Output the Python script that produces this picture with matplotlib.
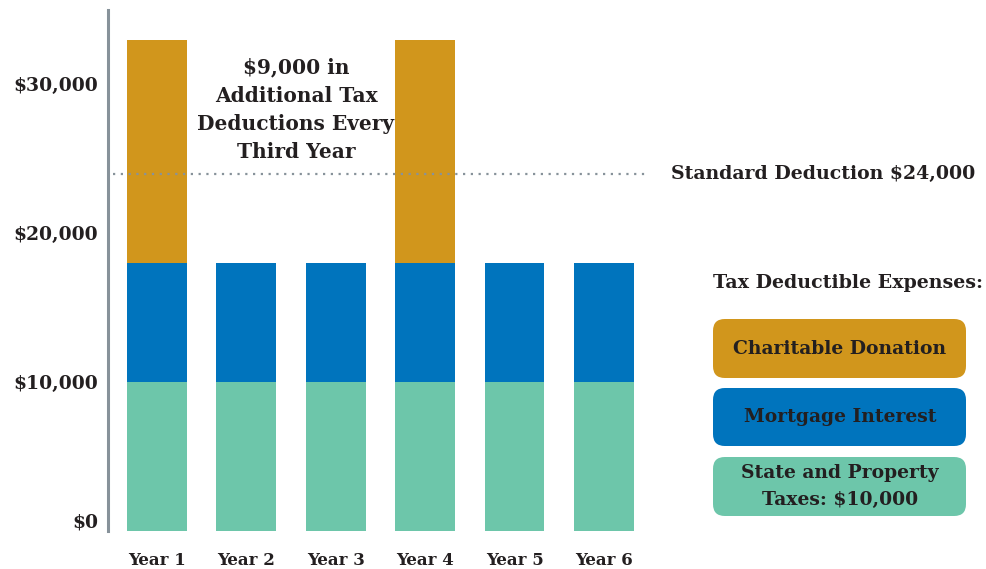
import matplotlib.pyplot as plt
from matplotlib.patches import FancyBboxPatch

years = ["Year 1", "Year 2", "Year 3", "Year 4", "Year 5", "Year 6"]
state_taxes = [10000, 10000, 10000, 10000, 10000, 10000]
mortgage = [8000, 8000, 8000, 8000, 8000, 8000]
charitable = [15000, 0, 0, 15000, 0, 0]
standard_deduction = 24000
yticks = [0, 10000, 20000, 30000]
ytick_labels = ["$0", "$10,000", "$20,000", "$30,000"]

c_orange = "#D1961C"
c_blue = "#0074BD"
c_green = "#6DC6AA"
c_text = "#231F20"
c_gray = "#87929A"

plt.rcParams["font.family"] = "DejaVu Serif"
plt.rcParams["font.weight"] = "bold"

fig = plt.figure(figsize=(9.87, 5.69), dpi=100)
ax = fig.add_axes([108 / 987, 38 / 569, 537 / 987, 521 / 569])

x = list(range(len(years)))
w = 0.67
ax.bar(x, state_taxes, w, color=c_green)
ax.bar(x, mortgage, w, bottom=state_taxes, color=c_blue)
base2 = [a + b for a, b in zip(state_taxes, mortgage)]
ax.bar(x, charitable, w, bottom=base2, color=c_orange)

ax.axhline(standard_deduction, xmin=0.01, xmax=1, color=c_gray,
           linestyle=(0, (1, 2.5)), linewidth=1.6)

ax.set_xlim(-0.548, 5.46)
ax.set_ylim(0, 35000)

for s in ["top", "right", "bottom"]:
    ax.spines[s].set_visible(False)
ax.spines["left"].set_color(c_gray)
ax.spines["left"].set_linewidth(2.2)

ax.set_xticks(x)
ax.set_xticklabels(years, fontsize=12, color=c_text)
ax.set_yticks(yticks)
ax.set_yticklabels(ytick_labels, fontsize=13.5, color=c_text)
ax.tick_params(length=0)
ax.tick_params(axis="x", pad=15)
ax.tick_params(axis="y", pad=7)
ax.get_yticklabels()[0].set_va("bottom")

ax.text(1.555, 28300, "$9,000 in\nAdditional Tax\nDeductions Every\nThird Year",
        ha="center", va="center", fontsize=14.5, color=c_text, linespacing=1.5)

fig.text(671 / 987, 1 - 174 / 569, "Standard Deduction $24,000",
         ha="left", va="center", fontsize=13.6, color=c_text)

fig.text(848 / 987, 1 - 283 / 569, "Tax Deductible Expenses:",
         ha="center", va="center", fontsize=13.7, color=c_text)

legend_items = [("Charitable Donation", c_orange, 319, 378),
                ("Mortgage Interest", c_blue, 388, 446),
                ("State and Property\nTaxes: $10,000", c_green, 457, 516)]
W, H = 987, 569
for label, col, top, bot in legend_items:
    box = FancyBboxPatch((713 / W, 1 - bot / H), (966 - 713) / W, (bot - top) / H,
                         boxstyle="round,pad=0,rounding_size=0.012",
                         transform=fig.transFigure, facecolor=col,
                         edgecolor="none", mutation_aspect=W / H)
    fig.patches.append(box)
    fig.text(840 / W, 1 - (top + bot) / 2 / H, label, ha="center", va="center",
             fontsize=13.5, color=c_text, linespacing=1.6)

fig.savefig("out.png", dpi=100)
